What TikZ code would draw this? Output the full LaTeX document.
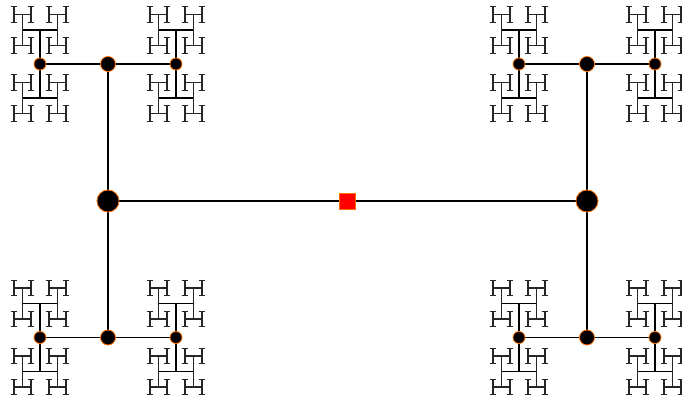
\documentclass[tikz,border=0pt]{standalone}
\usetikzlibrary{backgrounds}
\definecolor{rimorange}{RGB}{255,110,0}
\tikzset{
  mainline/.style={line width=1.5pt, black},
  thickfrac/.style={line width=1.5pt, black},
  thinfrac/.style={line width=1.1pt, black!85},
  rootbox/.style={rectangle, fill=red, draw=rimorange, line width=0.8pt, minimum size=16pt, inner sep=0pt},
  bigdot/.style={circle, fill=black, draw=rimorange, line width=0.8pt, minimum size=22pt, inner sep=0pt},
  middot/.style={circle, fill=black, draw=rimorange, line width=0.8pt, minimum size=15pt, inner sep=0pt},
  smalldot/.style={circle, fill=black, draw=rimorange, line width=0.8pt, minimum size=12pt, inner sep=0pt},
}
\newcommand\hleafpattern[1]{%
  \begin{scope}[shift={(#1.center)}]
    \draw[thickfrac] (0,-34) -- (0,34);
    \foreach \sa in {-1,1}{
      \begin{scope}[shift={(0,\sa*34)}]
        \draw[thickfrac] (-17.5,0) -- (17.5,0);
        \foreach \sb in {-1,1}{
          \begin{scope}[shift={(\sb*17.5,0)}]
            \draw[thinfrac] (0,-15.5) -- (0,15.5);
            \foreach \sc in {-1,1}{
              \begin{scope}[shift={(0,\sc*15.5)}]
                \draw[thinfrac] (-8.5,0) -- (8.5,0);
                \foreach \sd in {-1,1}{
                  \begin{scope}[shift={(\sd*8.5,0)}]
                    \draw[thinfrac] (0,-7.7) -- (0,7.7);
                    \draw[thinfrac] (-3.3,-7.7) -- (3.3,-7.7) (-3.3,7.7) -- (3.3,7.7);
                  \end{scope}}
              \end{scope}}
          \end{scope}}
      \end{scope}}
  \end{scope}}
\begin{document}
\begin{tikzpicture}[x=1pt,y=-1pt]
\useasboundingbox (0,0) rectangle (682,398);
\clip (0,0) rectangle (682,398);
% nodes
\node[rootbox] (r) at (347.5,201) {};
\node[bigdot] (a) at (108,201) {};
\node[bigdot] (b) at (587,201) {};
\node[middot] (a1) at (108,64) {};
\node[middot] (a2) at (108,337.5) {};
\node[middot] (b1) at (587,64) {};
\node[middot] (b2) at (587,337.5) {};
\node[smalldot] (a11) at (40,64) {};
\node[smalldot] (a12) at (176,64) {};
\node[smalldot] (a21) at (40,337.5) {};
\node[smalldot] (a22) at (176,337.5) {};
\node[smalldot] (b11) at (519,64) {};
\node[smalldot] (b12) at (655,64) {};
\node[smalldot] (b21) at (519,337.5) {};
\node[smalldot] (b22) at (655,337.5) {};
\begin{pgfonlayer}{background}
  \draw[mainline] (r) -- (a);
  \draw[mainline] (r) -- (b);
  \draw[mainline] (a) -- (a1);
  \draw[mainline] (a) -- (a2);
  \draw[mainline] (b) -- (b1);
  \draw[mainline] (b) -- (b2);
  \draw[mainline] (a1) -- (a11);
  \draw[mainline] (a1) -- (a12);
  \draw[mainline] (a2) -- (a21);
  \draw[mainline] (a2) -- (a22);
  \draw[mainline] (b1) -- (b11);
  \draw[mainline] (b1) -- (b12);
  \draw[mainline] (b2) -- (b21);
  \draw[mainline] (b2) -- (b22);
  \foreach \lf in {a11,a12,a21,a22,b11,b12,b21,b22}{\hleafpattern{\lf}}
\end{pgfonlayer}
\end{tikzpicture}
\end{document}
